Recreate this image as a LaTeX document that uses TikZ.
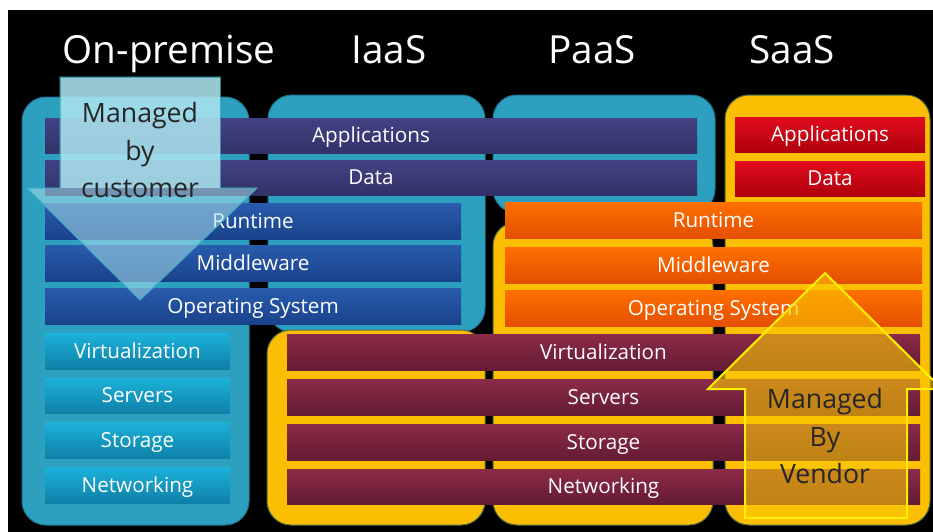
\documentclass[tikz,border=0pt]{standalone}
\usepackage{fontspec}
\setmainfont{Open Sans}

\definecolor{panelteal}{RGB}{44,160,190}
\definecolor{paneltealedge}{RGB}{28,120,150}
\definecolor{panelgold}{RGB}{252,190,0}
\definecolor{panelgoldedge}{RGB}{85,110,70}
\definecolor{purpletop}{RGB}{66,66,132}
\definecolor{purplebot}{RGB}{50,50,105}
\definecolor{bluetop}{RGB}{40,92,172}
\definecolor{bluebot}{RGB}{26,66,140}
\definecolor{cyantop}{RGB}{28,178,218}
\definecolor{cyanbot}{RGB}{14,128,168}
\definecolor{redtop}{RGB}{225,12,30}
\definecolor{redbot}{RGB}{175,0,12}
\definecolor{orangetop}{RGB}{255,112,0}
\definecolor{orangebot}{RGB}{228,78,0}
\definecolor{maroontop}{RGB}{140,42,72}
\definecolor{maroonbot}{RGB}{100,28,50}
\definecolor{custfill}{RGB}{170,226,238}
\definecolor{custedge}{RGB}{70,175,198}
\definecolor{vendfill}{RGB}{250,200,0}
\definecolor{vendedge}{RGB}{255,240,0}

\tikzset{every picture/.style={line width=0.75pt}}
\tikzset{
  tealpanel/.style={draw=paneltealedge, fill=panelteal, rounded corners=18pt},
  goldpanel/.style={draw=panelgoldedge, fill=panelgold, rounded corners=18pt},
  purplebar/.style={top color=purpletop, bottom color=purplebot},
  bluebar/.style={top color=bluetop, bottom color=bluebot},
  cyanbar/.style={top color=cyantop, bottom color=cyanbot},
  redbar/.style={top color=redtop, bottom color=redbot},
  orangebar/.style={top color=orangetop, bottom color=orangebot},
  maroonbar/.style={top color=maroontop, bottom color=maroonbot},
  heading/.style={text=white, font=\fontsize{29}{34}\selectfont, inner sep=0pt, anchor=base},
  bartext/.style={text=white, font=\fontsize{15.5}{18}\selectfont, inner sep=0pt, text height=0.71em, text depth=0pt, yshift=-2pt},
  managedtext/.style={text=black!85, font=\fontsize{20}{28}\selectfont, align=center, inner sep=0pt}
}

\begin{document}
\begin{tikzpicture}[x=0.75pt,y=0.75pt,yscale=-1,xscale=1]
\useasboundingbox (0,0) rectangle (933,532);

%Background
\fill [white] (0,0) rectangle (933,532);
\fill [black] (8,10) rectangle (933,532);

%Rounded Rect: columns
\draw [tealpanel] (22,97) rectangle (249,525);
\draw [tealpanel] (268,95) rectangle (485,332);
\draw [goldpanel] (267,330) rectangle (485,525);
\draw [tealpanel] (493,95) rectangle (715,213);
\draw [goldpanel] (493,222) rectangle (713,525);
\draw [goldpanel] (725,95) rectangle (930,525);

%Shape: Rectangle
\path [purplebar] (45,118) rectangle (697,153);
\path [purplebar] (45,160) rectangle (697,195);
\path [redbar] (735,117) rectangle (925,152);
\path [redbar] (735,161) rectangle (925,196);
\path [bluebar] (45,203) rectangle (461,239);
\path [bluebar] (45,245) rectangle (461,281);
\path [bluebar] (45,288) rectangle (461,324);
\path [orangebar] (505,202) rectangle (922,238);
\path [orangebar] (505,247) rectangle (922,283);
\path [orangebar] (505,290) rectangle (922,326);
\path [cyanbar] (45,333) rectangle (230,369);
\path [cyanbar] (45,378) rectangle (230,413);
\path [cyanbar] (45,422) rectangle (230,458);
\path [cyanbar] (45,467) rectangle (230,503);
\path [maroonbar] (287,334) rectangle (920,370);
\path [maroonbar] (287,379) rectangle (920,415);
\path [maroonbar] (287,424) rectangle (920,460);
\path [maroonbar] (287,469) rectangle (920,504);

% Text Node
\draw (169,63) node [heading] (onprem) {On-premise};
% Text Node
\draw (389,63) node [heading] (iaas) {IaaS};
% Text Node
\draw (592,63) node [heading] (paas) {PaaS};
% Text Node
\draw (792,63) node [heading] (saas) {SaaS};

% Text Node
\draw (371,135.5) node [bartext] (appsown) {Applications};
\draw (371,177.5) node [bartext] (dataown) {Data};
\draw (830,134.5) node [bartext] (appssaas) {Applications};
\draw (830,178.5) node [bartext] (datasaas) {Data};
\draw (253,221) node [bartext] (runown) {Runtime};
\draw (253,263) node [bartext] (midown) {Middleware};
\draw (253,306) node [bartext] (osown) {Operating System};
\draw (713.5,220) node [bartext] (runvend) {Runtime};
\draw (713.5,265) node [bartext] (midvend) {Middleware};
\draw (713.5,308) node [bartext] (osvend) {Operating System};
\draw (137.5,351) node [bartext] (virtown) {Virtualization};
\draw (137.5,395.5) node [bartext] (servown) {Servers};
\draw (137.5,440) node [bartext] (storown) {Storage};
\draw (137.5,485) node [bartext] (netown) {Networking};
\draw (603.5,352) node [bartext] (virtvend) {Virtualization};
\draw (603.5,397) node [bartext] (servvend) {Servers};
\draw (603.5,442) node [bartext] (storvend) {Storage};
\draw (603.5,486.5) node [bartext] (netvend) {Networking};

%Shape: Down Arrow
\draw [draw=custedge, fill=custfill, fill opacity=0.55] (60,77) -- (220,77) -- (220,188) -- (257,188) -- (140,300) -- (27,188) -- (60,188) -- cycle;
\fill [custfill, fill opacity=0.75] (60.5,77.5) rectangle (219.5,188);
% Text Node
\draw (140,150) node [managedtext] (bycust) {Managed\\by\\customer};

%Shape: Up Arrow
\draw [draw=vendedge, line width=1.5, fill=vendfill, fill opacity=0.6] (825,273) -- (942,389) -- (907,389) -- (907,518) -- (745,518) -- (745,389) -- (708,389) -- cycle;
% Text Node
\draw (825,436) node [managedtext] (byvend) {Managed\\By\\Vendor};

\end{tikzpicture}
\end{document}
